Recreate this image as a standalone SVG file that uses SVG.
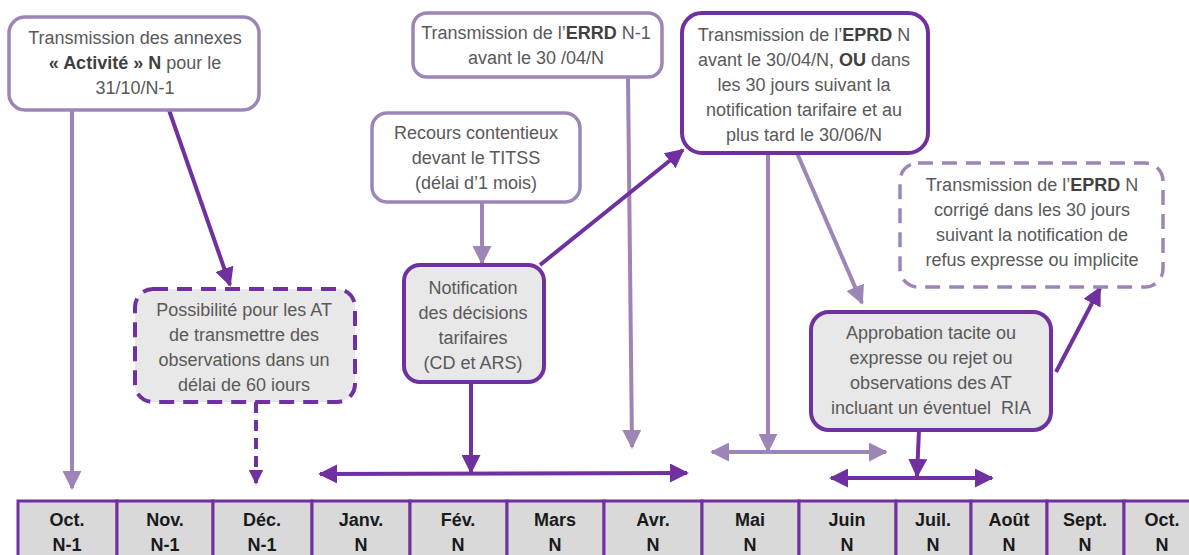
<svg xmlns="http://www.w3.org/2000/svg" width="1189" height="555" viewBox="0 0 1189 555">
<defs>
<style>
.t{font-family:"Liberation Sans",Arial,sans-serif;font-size:18px;fill:#595959;text-anchor:middle}
.b{font-weight:bold;fill:#404040}
.m{font-family:"Liberation Sans",Arial,sans-serif;font-size:18px;font-weight:bold;fill:#1a1a1a;text-anchor:middle}
.bl{fill:#fff;stroke:#9e85b7;stroke-width:3.5}
.bg{fill:#e8e8e8;stroke:#7030a0;stroke-width:4}
.dash{stroke-dasharray:15 9}
.cl{fill:none;stroke:#9e85b7;stroke-width:4}
.cd{fill:none;stroke:#7030a0;stroke-width:4}
.cell{fill:#d9d9d9;stroke:#7030a0;stroke-width:3}
</style>
<marker id="al" viewBox="0 0 10 10" refX="9" refY="5" markerWidth="19" markerHeight="19" markerUnits="userSpaceOnUse" orient="auto-start-reverse"><path d="M0,0 L10,5 L0,10 z" fill="#9e85b7"/></marker>
<marker id="ad" viewBox="0 0 10 10" refX="9" refY="5" markerWidth="19" markerHeight="19" markerUnits="userSpaceOnUse" orient="auto-start-reverse"><path d="M0,0 L10,5 L0,10 z" fill="#7030a0"/></marker>
<marker id="ads" viewBox="0 0 10 10" refX="9" refY="5" markerWidth="15" markerHeight="15" markerUnits="userSpaceOnUse" orient="auto"><path d="M0,0 L10,5 L0,10 z" fill="#7030a0"/></marker>
</defs>
<rect width="1189" height="555" fill="#fff"/>

<g id="connectors">
<line class="cl" x1="72" y1="110" x2="72" y2="488" marker-end="url(#al)"/>
<line class="cl" x1="628" y1="77" x2="632" y2="447" marker-end="url(#al)"/>
<line class="cl" x1="482" y1="202" x2="482" y2="263" marker-end="url(#al)"/>
<line class="cl" x1="768" y1="153" x2="768" y2="451" marker-end="url(#al)"/>
<line class="cl" x1="712" y1="452" x2="886" y2="452" marker-start="url(#al)" marker-end="url(#al)"/>
<line class="cl" x1="797" y1="153" x2="862" y2="303" marker-end="url(#al)"/>
<line class="cd" x1="169" y1="110" x2="230" y2="285" marker-end="url(#ad)"/>
<line class="cd" x1="256" y1="402" x2="256" y2="483" stroke-dasharray="11 7" marker-end="url(#ads)"/>
<line class="cd" x1="471" y1="383" x2="471" y2="472" marker-end="url(#ad)"/>
<line class="cd" x1="320" y1="474" x2="687" y2="473" marker-start="url(#ad)" marker-end="url(#ad)"/>
<line class="cd" x1="540" y1="265" x2="683" y2="150" marker-end="url(#ad)"/>
<line class="cd" x1="919" y1="430" x2="917" y2="476" marker-end="url(#ad)"/>
<line class="cd" x1="831" y1="478" x2="992" y2="478" marker-start="url(#ad)" marker-end="url(#ad)"/>
<line class="cd" x1="1056" y1="372" x2="1100" y2="288" marker-end="url(#ad)"/>
</g>

<g id="n-annexes">
<rect class="bl" x="9" y="17" width="250" height="93" rx="16"/>
<text class="t" x="135" y="44">Transmission des annexes</text>
<text class="t" x="135" y="69"><tspan class="b">« Activité » N</tspan> pour le</text>
<text class="t" x="135" y="94">31/10/N-1</text>
</g>

<g id="n-errd">
<rect class="bl" x="413" y="13" width="249" height="64" rx="14"/>
<text class="t" x="536" y="39">Transmission de l’<tspan class="b">ERRD</tspan> N-1</text>
<text class="t" x="536" y="64">avant le 30 /04/N</text>
</g>

<g id="n-recours">
<rect class="bl" x="372" y="113" width="208" height="89" rx="15"/>
<text class="t" x="476" y="139">Recours contentieux</text>
<text class="t" x="476" y="164">devant le TITSS</text>
<text class="t" x="476" y="189">(délai d’1 mois)</text>
</g>

<g id="n-eprd">
<rect x="682" y="13" width="246" height="140" rx="20" fill="#fff"/>
<text class="t" x="804" y="41">Transmission de l’<tspan class="b">EPRD</tspan> N</text>
<text class="t" x="804" y="66">avant le 30/04/N, <tspan class="b">OU</tspan> dans</text>
<text class="t" x="804" y="91">les 30 jours suivant la</text>
<text class="t" x="804" y="116">notification tarifaire et au</text>
<text class="t" x="804" y="141">plus tard le 30/06/N</text>
<rect x="682" y="13" width="246" height="140" rx="20" fill="none" stroke="#7030a0" stroke-width="4"/>
</g>

<g id="n-eprd-corrige">
<rect class="bl dash" x="900" y="163" width="263" height="124" rx="18"/>
<text class="t" x="1032" y="191">Transmission de l’<tspan class="b">EPRD</tspan> N</text>
<text class="t" x="1032" y="216">corrigé dans les 30 jours</text>
<text class="t" x="1032" y="241">suivant la notification de</text>
<text class="t" x="1032" y="266">refus expresse ou implicite</text>
</g>

<g id="n-possibilite">
<rect class="bg dash" x="135" y="289" width="220" height="113" rx="18"/>
<text class="t" x="244" y="316">Possibilité pour les AT</text>
<text class="t" x="244" y="341">de transmettre des</text>
<text class="t" x="244" y="366">observations dans un</text>
<text class="t" x="244" y="391">délai de 60 iours</text>
</g>

<g id="n-notification">
<rect class="bg" x="404" y="265" width="140" height="117" rx="16"/>
<text class="t" x="473" y="294">Notification</text>
<text class="t" x="473" y="319">des décisions</text>
<text class="t" x="473" y="344">tarifaires</text>
<text class="t" x="473" y="369">(CD et ARS)</text>
</g>

<g id="n-approbation">
<rect class="bg" x="811" y="312" width="240" height="118" rx="18"/>
<text class="t" x="931" y="339">Approbation tacite ou</text>
<text class="t" x="931" y="364">expresse ou rejet ou</text>
<text class="t" x="931" y="389">observations des AT</text>
<text class="t" x="931" y="414" xml:space="preserve">incluant un éventuel  RIA</text>
</g>

<g id="timeline">
<rect class="cell" x="18" y="501" width="99" height="60"/>
<rect class="cell" x="117" y="501" width="96" height="60"/>
<rect class="cell" x="213" y="501" width="99" height="60"/>
<rect class="cell" x="312" y="501" width="98" height="60"/>
<rect class="cell" x="410" y="501" width="97" height="60"/>
<rect class="cell" x="507" y="501" width="97" height="60"/>
<rect class="cell" x="604" y="501" width="98" height="60"/>
<rect class="cell" x="702" y="501" width="97" height="60"/>
<rect class="cell" x="799" y="501" width="97" height="60"/>
<rect class="cell" x="896" y="501" width="75" height="60"/>
<rect class="cell" x="971" y="501" width="76" height="60"/>
<rect class="cell" x="1047" y="501" width="77" height="60"/>
<rect class="cell" x="1124" y="501" width="80" height="60"/>
<text class="m" x="67" y="526">Oct.</text><text class="m" x="67" y="551">N-1</text>
<text class="m" x="165" y="526">Nov.</text><text class="m" x="165" y="551">N-1</text>
<text class="m" x="262" y="526">Déc.</text><text class="m" x="262" y="551">N-1</text>
<text class="m" x="361" y="526">Janv.</text><text class="m" x="361" y="551">N</text>
<text class="m" x="458" y="526">Fév.</text><text class="m" x="458" y="551">N</text>
<text class="m" x="555" y="526">Mars</text><text class="m" x="555" y="551">N</text>
<text class="m" x="653" y="526">Avr.</text><text class="m" x="653" y="551">N</text>
<text class="m" x="750" y="526">Mai</text><text class="m" x="750" y="551">N</text>
<text class="m" x="847" y="526">Juin</text><text class="m" x="847" y="551">N</text>
<text class="m" x="933" y="526">Juil.</text><text class="m" x="933" y="551">N</text>
<text class="m" x="1009" y="526">Août</text><text class="m" x="1009" y="551">N</text>
<text class="m" x="1085" y="526">Sept.</text><text class="m" x="1085" y="551">N</text>
<text class="m" x="1162" y="526">Oct.</text><text class="m" x="1162" y="551">N</text>
</g>
</svg>
